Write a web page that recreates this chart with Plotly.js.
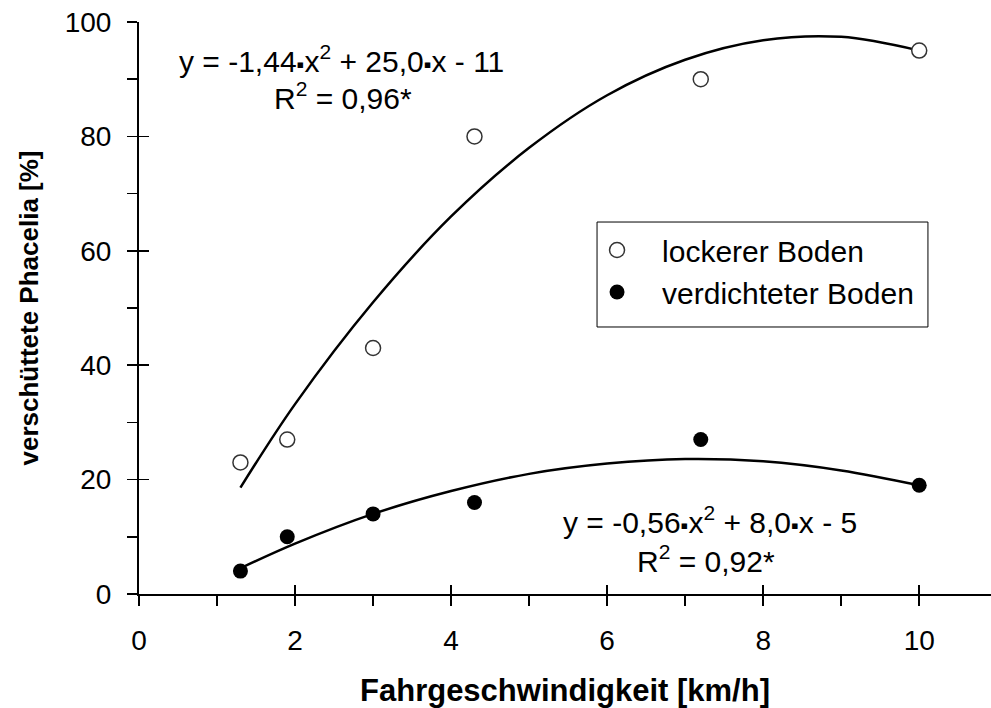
<!DOCTYPE html>
<html>
<head>
<meta charset="utf-8">
<script src="https://cdn.plot.ly/plotly-3.0.1.min.js"></script>
<style>html,body{margin:0;padding:0;background:#fff;}#chart{width:991px;height:708px;}</style>
</head>
<body>
<div id="chart"></div>
<script>
// Measured points
const speed = [1.3, 1.9, 3.0, 4.3, 7.2, 10.0];
const lockerer = [23, 27, 43, 80, 90, 95];
const verdichtet = [4, 10, 14, 16, 27, 19];

// Trend curves
const fitLockerX = [1.3, 2, 3, 4, 5, 6, 7, 8, 9, 10];
const fitLockerY = [18.6, 33.2, 51.0, 66.0, 78.0, 87.2, 93.4, 96.8, 97.4, 95.0];
const fitVerdX = [1.3, 2, 3, 4, 5, 6, 7, 8, 9, 10];
const fitVerdY = [4.5, 8.8, 14.0, 18.0, 21.0, 22.8, 23.6, 23.2, 21.6, 19.0];

const seriesNames = ['\u00a0\u00a0\u00a0lockerer Boden', '\u00a0\u00a0\u00a0verdichteter Boden'];
const DOT = '<span style="font-size:22px">\u25aa</span>';
const eqUpper = ['y = -1,44' + DOT + 'x<sup>2</sup> + 25,0' + DOT + 'x - 11', 'R<sup>2</sup> = 0,96*'];
const eqLower = ['y = -0,56' + DOT + 'x<sup>2</sup> + 8,0' + DOT + 'x - 5', 'R<sup>2</sup> = 0,92*'];

const xTickVals = [0, 2, 4, 6, 8, 10];
const yTickVals = [0, 20, 40, 60, 80, 100];

const FONT = 'Liberation Sans, Arial, sans-serif';

const traces = [
  {x: fitLockerX, y: fitLockerY, mode: 'lines', line: {color: '#000', width: 2.5, shape: 'spline'}, showlegend: false, hoverinfo: 'skip'},
  {x: fitVerdX, y: fitVerdY, mode: 'lines', line: {color: '#000', width: 2.5, shape: 'spline'}, showlegend: false, hoverinfo: 'skip'},
  {x: speed, y: lockerer, mode: 'markers', name: seriesNames[0], legendgroup: 'a',
   marker: {symbol: 'circle', size: 15, color: '#fff', line: {color: '#333', width: 1.5}}},
  {x: speed, y: verdichtet, mode: 'markers', name: seriesNames[1], legendgroup: 'b',
   marker: {symbol: 'circle', size: 15, color: '#000', line: {color: '#000', width: 0}}},
  {x: [], y: [], xaxis: 'x2', yaxis: 'y2', showlegend: false, hoverinfo: 'skip'}
];

const annotations = [
  {x: 2.59, y: 93.6, text: eqUpper[0]},
  {x: 2.62, y: 87.0, text: eqUpper[1]},
  {x: 7.32, y: 12.9, text: eqLower[0]},
  {x: 7.27, y: 6.2, text: eqLower[1]}
].map(a => Object.assign({xref: 'x', yref: 'y', showarrow: false, xanchor: 'center', yanchor: 'middle',
  font: {family: FONT, size: 30, color: '#000'}}, a));

const layout = {
  width: 991, height: 708,
  margin: {l: 139, r: 0, t: 22, b: 114},
  paper_bgcolor: '#fff', plot_bgcolor: '#fff',
  font: {family: FONT, size: 28, color: '#000'},
  xaxis: {
    range: [0, 10.92], tickvals: xTickVals, ticks: 'outside', ticklen: 10, tickwidth: 1.5, tickcolor: '#000',
    showline: true, linecolor: '#000', linewidth: 2, showgrid: false, zeroline: false,
    ticklabelstandoff: 10, tickfont: {family: FONT, size: 28},
    minor: {dtick: 1, tick0: 0, ticks: 'outside', ticklen: 10, tickwidth: 1.5, tickcolor: '#000', showgrid: false},
    title: {text: '<b>Fahrgeschwindigkeit [km/h]</b>', font: {family: FONT, size: 31}, standoff: 28}
  },
  yaxis: {
    range: [0, 100], tickvals: yTickVals, ticks: 'outside', ticklen: 10, tickwidth: 1.5, tickcolor: '#000',
    showline: true, linecolor: '#000', linewidth: 2, showgrid: false, zeroline: false,
    ticklabelstandoff: 10, tickfont: {family: FONT, size: 28},
    minor: {dtick: 10, tick0: 0, ticks: 'outside', ticklen: 10, tickwidth: 1.5, tickcolor: '#000', showgrid: false},
    title: {text: '<b>verschüttete Phacelia [%]</b>', font: {family: FONT, size: 26}, standoff: 19}
  },
  xaxis2: {overlaying: 'x', anchor: 'y2', range: [0, 10.92], tickvals: xTickVals, ticks: 'inside', ticklen: 9,
    tickwidth: 1.5, tickcolor: '#000', showticklabels: false, showgrid: false, zeroline: false, showline: false},
  yaxis2: {overlaying: 'y', anchor: 'x2', range: [0, 100], tickvals: yTickVals, ticks: 'inside', ticklen: 10,
    tickwidth: 1.5, tickcolor: '#000', showticklabels: false, showgrid: false, zeroline: false, showline: false},
  legend: {x: 0.5376, y: 0.6469, xanchor: 'left', yanchor: 'top', bgcolor: 'rgba(0,0,0,0)', borderwidth: 0,
    font: {family: FONT, size: 30, color: '#000'}, tracegroupgap: 0, itemsizing: 'trace'},
  shapes: [{type: 'rect', xref: 'paper', yref: 'paper', x0: 0.5376, x1: 0.926, y0: 0.4668, y1: 0.6503,
    line: {color: '#000', width: 1}, fillcolor: '#fff', layer: 'below'}],
  annotations: annotations,
  showlegend: true
};

Plotly.newPlot('chart', traces, layout, {displayModeBar: false, staticPlot: true});
</script>
</body>
</html>
